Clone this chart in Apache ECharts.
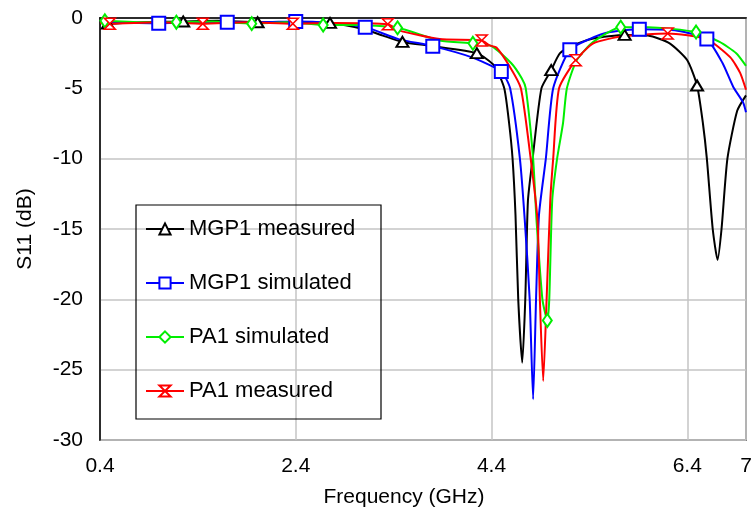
<!DOCTYPE html>
<html>
<head>
<meta charset="utf-8">
<script src="https://cdn.jsdelivr.net/npm/echarts@6/dist/echarts.min.js"></script>
<style>html,body{margin:0;padding:0;background:#fff}#c{width:756px;height:512px}</style>
</head>
<body>
<div id="c"></div>
<script>
// ---- data (frequency in GHz, S11 in dB) ----
const freqTicks = [0.4, 2.4, 4.4, 6.4, 7];

const mgp1MeasF   = [0.4, 0.48, 0.85, 1.25, 1.6, 2.01, 2.4, 2.75, 3.1, 3.29, 3.49, 3.8, 4.25, 4.43, 4.53, 4.58, 4.615, 4.645, 4.673, 4.714, 4.745, 4.772, 4.82, 4.91, 5.01, 5.10, 5.25, 5.44, 5.76, 6.0, 6.22, 6.40, 6.50, 6.56, 6.60, 6.66, 6.71, 6.75, 6.81, 6.91, 7.0];
const mgp1MeasS11 = [-0.35, -0.4, -0.3, -0.25, -0.2, -0.3, -0.3, -0.35, -0.8, -1.25, -1.7, -2.0, -2.5, -3.4, -5.0, -7.5, -10, -14, -20, -24.5, -20, -13, -10, -5, -3.7, -2.5, -1.9, -1.45, -1.2, -1.25, -1.8, -3.0, -4.8, -7.5, -10, -15, -17.2, -15, -10, -6.6, -5.5];
const mgp1MeasMarks = [0.48, 1.25, 2.01, 2.75, 3.49, 4.25, 5.01, 5.76, 6.50];

const mgp1SimF   = [0.4, 1.0, 1.35, 1.7, 2.05, 2.4, 2.75, 3.11, 3.45, 3.80, 4.2, 4.50, 4.59, 4.69, 4.74, 4.79, 4.825, 4.855, 4.885, 4.955, 5.03, 5.20, 5.40, 5.61, 5.91, 6.3, 6.60, 6.76, 6.87, 6.97, 7.0];
const mgp1SimS11 = [-0.3, -0.37, -0.3, -0.3, -0.3, -0.25, -0.35, -0.65, -1.5, -2.0, -2.8, -3.8, -5, -10, -14.4, -20, -27.1, -20, -14, -10, -5, -2.25, -1.5, -1.0, -0.8, -0.9, -1.5, -3.2, -4.9, -6.0, -6.7];
const mgp1SimMarks = [1.0, 1.7, 2.4, 3.11, 3.80, 4.50, 5.20, 5.91, 6.60];

const pa1SimF   = [0.4, 0.45, 0.8, 1.18, 1.55, 1.95, 2.3, 2.68, 3.0, 3.44, 3.87, 4.21, 4.4, 4.6, 4.71, 4.75, 4.825, 4.86, 4.92, 4.97, 4.99, 5.02, 5.07, 5.13, 5.17, 5.27, 5.44, 5.72, 6.0, 6.49, 6.73, 6.90, 7.0];
const pa1SimS11 = [-0.2, -0.2, -0.3, -0.3, -0.25, -0.4, -0.3, -0.5, -0.5, -0.7, -1.6, -1.8, -2.0, -3.2, -4.3, -5, -10, -14.4, -20, -21.5, -20, -13, -10, -7.5, -5, -3.0, -1.7, -0.65, -0.65, -1.0, -1.7, -2.5, -3.4];
const pa1SimMarks = [0.45, 1.18, 1.95, 2.68, 3.44, 4.21, 4.97, 5.72, 6.49];

const pa1MeasF   = [0.4, 0.5, 1.0, 1.45, 1.9, 2.37, 2.8, 3.34, 3.46, 3.87, 4.30, 4.38, 4.45, 4.59, 4.70, 4.80, 4.87, 4.894, 4.928, 4.963, 5.0, 5.03, 5.09, 5.26, 5.44, 5.74, 6.20, 6.6, 6.84, 6.94, 7.0];
const pa1MeasS11 = [-0.35, -0.4, -0.3, -0.4, -0.3, -0.4, -0.35, -0.45, -0.9, -1.5, -1.6, -1.95, -2.1, -3.5, -5, -10, -14.4, -20, -25.8, -20, -13, -10, -5, -3.0, -1.8, -1.3, -1.1, -1.5, -2.8, -3.9, -5.1];
const pa1MeasMarks = [0.5, 1.45, 2.37, 3.34, 4.30, 5.26, 6.20];

// ---- chart ----
const FONT = '"Liberation Sans", Arial, sans-serif';

function build(f, s, marks) {
  return f.map((x, i) => marks.includes(x) ? [x, s[i]] : { value: [x, s[i]], symbol: 'none' });
}

function lineSeries(name, color, f, s, marks, symbol, size, itemStyle) {
  return {
    name: name,
    type: 'line',
    data: build(f, s, marks),
    smooth: 0.2,
    symbol: symbol,
    symbolSize: size,
    showSymbol: true,
    showAllSymbol: true,
    lineStyle: { color: color, width: 2 },
    itemStyle: itemStyle || { color: color, borderWidth: 1.5 },
    emphasis: { disabled: true },
    animation: false
  };
}

const chart = echarts.init(document.getElementById('c'), null, { renderer: 'canvas' });
chart.setOption({
  animation: false,
  backgroundColor: '#fff',
  grid: {
    left: 100, right: 10, top: 18, bottom: 72,
    outerBoundsMode: 'none',
    containLabel: false,
    show: true, borderColor: '#808080', borderWidth: 2
  },
  legend: {
    orient: 'vertical',
    left: 140, top: 213,
    itemWidth: 38, itemHeight: 14, itemGap: 32,
    textStyle: { fontSize: 22, fontFamily: FONT, color: '#000' },
    data: ['MGP1 measured', 'MGP1 simulated', 'PA1 simulated', 'PA1 measured']
  },
  graphic: [{
    type: 'rect',
    shape: { x: 136, y: 205, width: 245, height: 214 },
    style: { fill: 'none', stroke: '#000', lineWidth: 1.2 },
    z: 100
  }],
  xAxis: {
    type: 'value',
    min: 0.4, max: 7,
    name: 'Frequency (GHz)',
    nameLocation: 'middle',
    nameGap: 47,
    nameTextStyle: { fontSize: 21, fontFamily: FONT, color: '#000', padding: [0, 38, 0, 0] },
    axisLine: { show: true, lineStyle: { color: '#000', width: 1.5 } },
    axisTick: { show: false, customValues: freqTicks },
    axisLabel: { customValues: freqTicks, fontSize: 21, fontFamily: FONT, color: '#000', margin: 16 },
    splitLine: { show: true, lineStyle: { color: '#c4c4c4', width: 1.5 } }
  },
  yAxis: {
    type: 'value',
    min: -30, max: 0, interval: 5,
    name: 'S11 (dB)',
    nameLocation: 'middle',
    nameGap: 64,
    nameTextStyle: { fontSize: 21, fontFamily: FONT, color: '#000' },
    axisLine: { show: true, lineStyle: { color: '#000', width: 1.5 } },
    axisTick: { show: false },
    axisLabel: { fontSize: 21, fontFamily: FONT, color: '#000', margin: 17 },
    splitLine: { show: true, lineStyle: { color: '#c4c4c4', width: 1.5 } }
  },
  series: [
    lineSeries('MGP1 measured', '#000000', mgp1MeasF, mgp1MeasS11, mgp1MeasMarks, 'emptyTriangle', [12, 10]),
    lineSeries('MGP1 simulated', '#0000ff', mgp1SimF, mgp1SimS11, mgp1SimMarks, 'emptyRect', 13),
    lineSeries('PA1 simulated', '#00ee00', pa1SimF, pa1SimS11, pa1SimMarks, 'emptyDiamond', [9, 13]),
    lineSeries('PA1 measured', '#ff0000', pa1MeasF, pa1MeasS11, pa1MeasMarks,
      'path://M0,0L10,0L5,5L10,10L0,10L5,5Z', [11, 11],
      { color: '#ffffff', borderColor: '#ff0000', borderWidth: 1.5 })
  ]
});
</script>
</body>
</html>
